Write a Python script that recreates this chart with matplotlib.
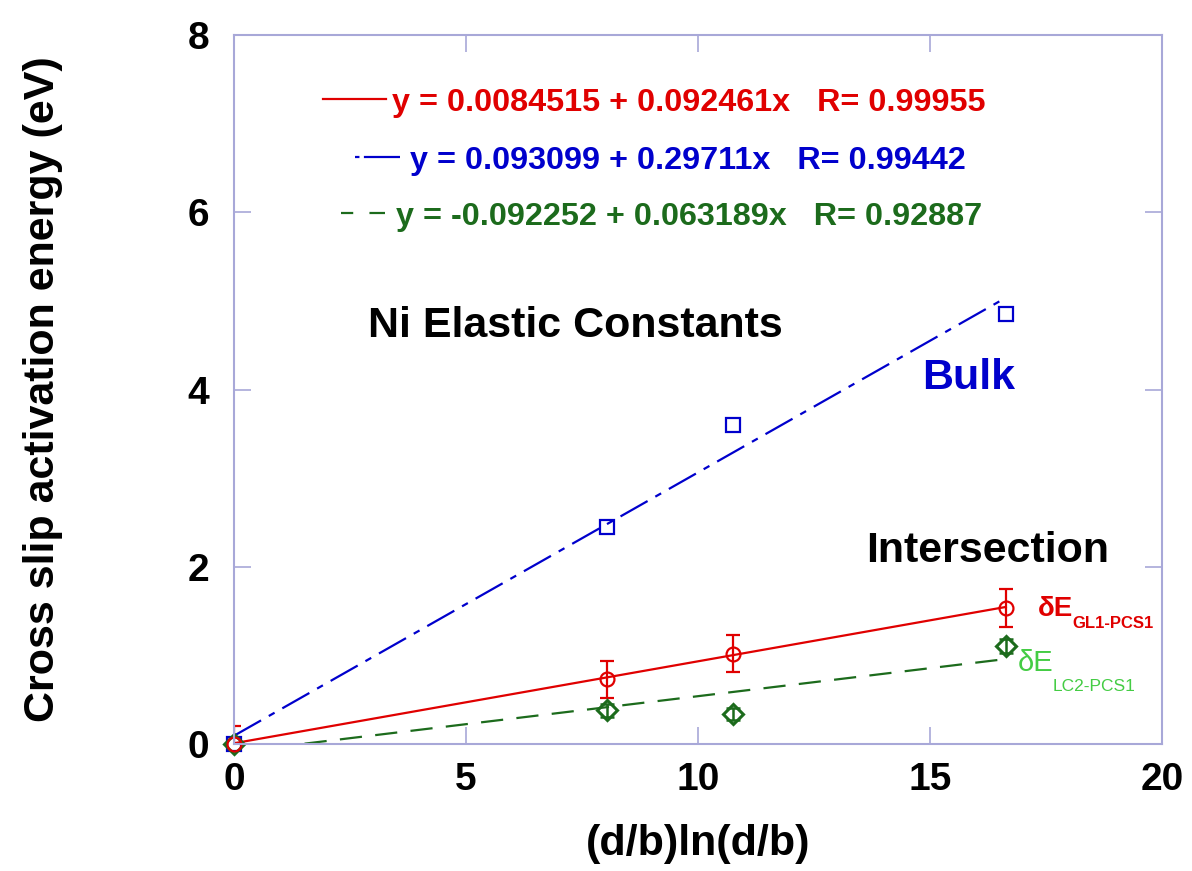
import numpy as np
import matplotlib
matplotlib.use('Agg')
from matplotlib import pyplot as plt

plt.rcParams['font.family'] = ['Liberation Sans', 'DejaVu Sans']
plt.rcParams['font.weight'] = 'bold'

# (d/b)ln(d/b) for d/b = 1, 5, 6, 8
x_vals = [0.0, 8.047, 10.751, 16.636]

bulk_E = [0.0, 2.45, 3.60, 4.85]
gl1_E = [0.0, 0.73, 1.02, 1.535]
gl1_err = [0.20, 0.21, 0.21, 0.21]
lc2_E = [0.0, 0.38, 0.34, 1.11]
lc2_err = [0.05, 0.07, 0.07, 0.08]

# linear fits: intercept, slope, R
fit_gl1 = (0.0084515, 0.092461, 0.99955)
fit_bulk = (0.093099, 0.29711, 0.99442)
fit_lc2 = (-0.092252, 0.063189, 0.92887)

x_ticks = [0, 5, 10, 15, 20]
y_ticks = [0, 2, 4, 6, 8]

RED = '#e00000'
BLUE = '#0000cc'
DKGREEN = '#1c6b1c'
LTGREEN = '#44cc44'
FRAME = '#a8a8d8'

BULK_DASH = (14, 4, 3, 4)
LC2_DASH = (10, 6)


def fit_line(fit, xs):
    b, m, _ = fit
    return [b + m * x for x in xs]


def main():
    fig = plt.figure(figsize=(11.92, 8.71), dpi=100)
    ax = fig.add_axes([0.1963, 0.1458, 0.7785, 0.814])

    ax.set_xlim(0, 20)
    ax.set_ylim(0, 8)
    ax.set_xticks(x_ticks)
    ax.set_yticks(y_ticks)
    ax.tick_params(direction='in', length=12, width=1.2, color=FRAME,
                   top=True, right=True, labelsize=28)
    ax.tick_params(axis='x', pad=13)
    ax.tick_params(axis='y', pad=18)
    for sp in ax.spines.values():
        sp.set_color(FRAME)
        sp.set_linewidth(1.5)

    xfit = [0.0, x_vals[-1]]

    # fitted lines
    ax.plot(xfit, fit_line(fit_gl1, xfit), color=RED, lw=1.6)
    ax.plot(xfit, fit_line(fit_bulk, xfit), color=BLUE, lw=1.6, dashes=BULK_DASH)
    ax.plot(xfit, fit_line(fit_lc2, xfit), color=DKGREEN, lw=1.6, dashes=LC2_DASH)

    # error bars
    ax.errorbar(x_vals, gl1_E, yerr=gl1_err, fmt='none', ecolor=RED,
                elinewidth=1.6, capsize=5, capthick=1.6)
    ax.errorbar(x_vals[1:], lc2_E[1:], yerr=lc2_err[1:], fmt='none', ecolor=DKGREEN,
                elinewidth=1.8, capsize=5, capthick=1.8)

    # data points
    ax.plot(x_vals, bulk_E, 's', ms=10, mfc='none', mec=BLUE, mew=1.6, clip_on=False)
    ax.plot(x_vals, lc2_E, 'D', ms=10, mfc='none', mec=DKGREEN, mew=2.2, clip_on=False)
    ax.plot(x_vals, gl1_E, 'o', ms=10, mfc='none', mec=RED, mew=1.6, clip_on=False)

    # fit legend
    rows = [
        (fit_gl1, RED, None, (0.0959, 0.1638), 0.9097, 0.1703, 0.8928),
        (fit_bulk, BLUE, (2, 2, 17, 4), (0.1304, 0.1789), 0.828, 0.1897, 0.811),
        (fit_lc2, DKGREEN, (5.5, 7.3, 7.3, 7.3), (0.1153, 0.1627), 0.749, 0.1746, 0.732),
    ]
    for fit, col, dash, (x0, x1), ly, tx, ty in rows:
        kw = {} if dash is None else {'dashes': dash}
        ax.plot([x0, x1], [ly, ly], color=col, lw=1.6, transform=ax.transAxes,
                clip_on=False, **kw)
        b, m, r = fit
        label = 'y = %s + %sx   R= %s' % ('%.8g' % b, '%.8g' % m, '%.5f' % r)
        ax.text(tx, ty, label, color=col, fontsize=23.35, fontweight='bold',
                transform=ax.transAxes, ha='left', va='baseline')

    # annotations
    ax.text(2.89, 4.72, 'Ni Elastic Constants', fontsize=31, fontweight='bold',
            color='black', ha='left', va='center')
    ax.text(14.83, 4.13, 'Bulk', fontsize=31, fontweight='bold',
            color=BLUE, ha='left', va='center')
    ax.text(13.62, 2.18, 'Intersection', fontsize=31, fontweight='bold',
            color='black', ha='left', va='center')

    ax.text(17.33, 1.44, 'δE', fontsize=20, fontweight='bold', color=RED,
            ha='left', va='baseline')
    ax.annotate('GL1-PCS1', xy=(17.33, 1.44), xytext=(25, -8), textcoords='offset points',
                fontsize=12, fontweight='bold', color=RED, ha='left', va='baseline')
    ax.text(16.9, 0.82, 'δE', fontsize=21, fontweight='normal', color=LTGREEN,
            ha='left', va='baseline')
    ax.annotate('LC2-PCS1', xy=(16.9, 0.82), xytext=(25, -14), textcoords='offset points',
                fontsize=12.5, fontweight='normal', color=LTGREEN, ha='left', va='baseline')

    ax.set_xlabel('(d/b)ln(d/b)', fontsize=31, fontweight='bold', labelpad=19)
    ax.set_ylabel('Cross slip activation energy (eV)', fontsize=31, fontweight='bold')
    ax.yaxis.set_label_coords(-0.184, 0.5)

    fig.savefig('out.png', dpi=100)


if __name__ == "__main__":
    main()
